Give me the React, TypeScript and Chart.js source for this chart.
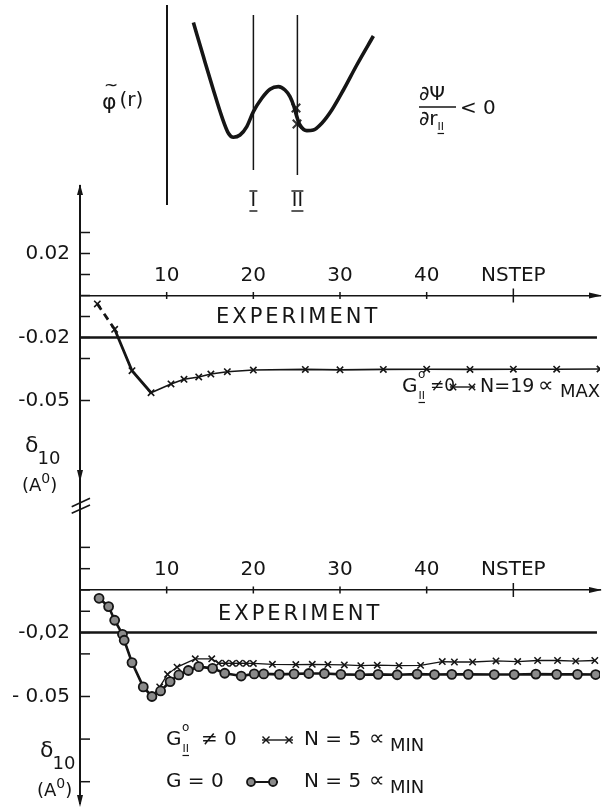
import React, { useEffect, useRef } from 'react';
import { Chart, registerables } from 'chart.js';

Chart.register(...registerables);

const FONT = '"DejaVu Sans", "Liberation Sans", sans-serif';
const INK = '#151515';

// ---------------- potential sketch (r, phi) ----------------
const sketchR = [1.32, 1.82, 2.32, 2.74, 3.07, 3.32, 3.65, 3.99, 4.32, 4.74, 5.15, 5.57, 5.9, 6.15, 6.35, 6.49, 6.65, 6.99, 7.32, 7.74, 8.24, 8.82, 9.49, 10.32];
const sketchPhi = [8.87, 7.17, 5.5, 4.17, 3.34, 3.14, 3.25, 3.67, 4.42, 5.09, 5.54, 5.67, 5.5, 5.17, 4.67, 4.17, 3.75, 3.47, 3.5, 3.84, 4.5, 5.5, 6.75, 8.2];
const sketchMarkR = [6.45, 6.5];
const sketchMarkPhi = [4.6, 3.8];
const phiAxisR = [0, 0];
const phiAxisPhi = [9.75, -0.25];
const shellIR = [4.32, 4.32];
const shellIPhi = [9.25, 1.5];
const shellIIR = [6.52, 6.52];
const shellIIPhi = [9.25, 1.25];

// ---------------- NSTEP axis ----------------
const nstepTicks = [10, 20, 30, 40, 50];
const nstepLabels = ['10', '20', '30', '40', 'NSTEP'];
const experimentNstep = [0, 59.65];
const experimentDelta = [-0.02, -0.02];

// ---------------- upper panel: N=19, alpha MAX ----------------
const upperYTicks = [0.03, 0.02, 0.01, 0, -0.01, -0.02, -0.03, -0.05];
const upperYLabels = ['', '0.02', '', '', '', '-0.02', '', '-0.05'];
const upperNstep = [2, 4, 6, 8.2, 10.5, 12, 13.7, 15.1, 17, 20, 26, 30, 35, 40, 45, 50, 55, 60];
const upperDelta = [-0.004, -0.0161, -0.0358, -0.0463, -0.0421, -0.0399, -0.0388, -0.0374, -0.0363, -0.0355, -0.0352, -0.0354, -0.0352, -0.0351, -0.0352, -0.0351, -0.0351, -0.035];

// ---------------- lower panel: N=5, alpha MIN ----------------
const lowerYTicks = [0.02, 0.01, 0, -0.01, -0.02, -0.03, -0.05, -0.07, -0.09];
const lowerYLabels = ['', '', '', '', '-0,02', '', '- 0.05', '', ''];
const lowerCircleNstep = [2.2, 3.3, 4.0, 4.9, 5.1, 6.0, 7.3, 8.3, 9.3, 10.4, 11.4, 12.5, 13.7, 15.3, 16.7, 18.6, 20.1, 21.2, 23, 24.7, 26.4, 28.2, 30.1, 32.3, 34.4, 36.6, 38.9, 40.9, 42.9, 44.8, 47.8, 50.1, 52.6, 55, 57.4, 59.5];
const lowerCircleDelta = [-0.0039, -0.0078, -0.0142, -0.0208, -0.0236, -0.0341, -0.0455, -0.05, -0.0474, -0.043, -0.0399, -0.0378, -0.036, -0.0368, -0.0391, -0.0404, -0.0394, -0.0394, -0.0396, -0.0394, -0.0392, -0.0392, -0.0396, -0.0398, -0.0396, -0.0398, -0.0395, -0.0397, -0.0396, -0.0396, -0.0397, -0.0397, -0.0395, -0.0396, -0.0396, -0.0397];
const lowerCrossNstep = [2.2, 3.3, 4.0, 4.9, 6.0, 7.3, 8.3, 9.2, 10.1, 11.2, 13.3, 15.2, 16.0, 16.8, 17.6, 18.4, 19.2, 20.0, 22.2, 24.9, 26.8, 28.6, 30.5, 32.4, 34.3, 36.8, 39.3, 41.8, 43.2, 45.3, 48.0, 50.5, 52.8, 55.1, 57.2, 59.4];
const lowerCrossDelta = [-0.0039, -0.0078, -0.0142, -0.0208, -0.0341, -0.0455, -0.05, -0.0455, -0.0396, -0.0362, -0.0323, -0.0323, -0.0344, -0.0344, -0.0345, -0.0344, -0.0345, -0.0345, -0.0349, -0.035, -0.0349, -0.035, -0.0352, -0.0355, -0.0353, -0.0355, -0.0354, -0.0336, -0.0338, -0.0338, -0.0333, -0.0336, -0.0331, -0.0331, -0.0334, -0.0331];

type Pt = { x: number; y: number };
const zip = (xs: number[], ys: number[]): Pt[] => xs.map((x, i) => ({ x, y: ys[i] }));

// ---------------- drawing helpers ----------------
function txt(ctx: CanvasRenderingContext2D, s: string, x: number, y: number, size: number, o: { align?: CanvasTextAlign; ls?: number } = {}) {
  ctx.save();
  ctx.font = `${size}px ${FONT}`;
  ctx.fillStyle = INK;
  ctx.textAlign = o.align || 'left';
  ctx.textBaseline = 'middle';
  (ctx as any).letterSpacing = `${o.ls || 0}px`;
  ctx.fillText(s, x, y);
  const w = ctx.measureText(s).width;
  ctx.restore();
  return x + w;
}
function seg(ctx: CanvasRenderingContext2D, x1: number, y1: number, x2: number, y2: number, w: number) {
  ctx.save();
  ctx.strokeStyle = INK;
  ctx.lineWidth = w;
  ctx.beginPath();
  ctx.moveTo(x1, y1);
  ctx.lineTo(x2, y2);
  ctx.stroke();
  ctx.restore();
}
function tri(ctx: CanvasRenderingContext2D, p: number[]) {
  ctx.save();
  ctx.fillStyle = INK;
  ctx.beginPath();
  ctx.moveTo(p[0], p[1]);
  ctx.lineTo(p[2], p[3]);
  ctx.lineTo(p[4], p[5]);
  ctx.closePath();
  ctx.fill();
  ctx.restore();
}
function crossMark(ctx: CanvasRenderingContext2D, x: number, y: number, r: number) {
  seg(ctx, x - r, y - r, x + r, y + r, 1.4);
  seg(ctx, x - r, y + r, x + r, y - r, 1.4);
}
function circleMark(ctx: CanvasRenderingContext2D, x: number, y: number, r: number) {
  ctx.save();
  ctx.fillStyle = '#8a8a8a';
  ctx.strokeStyle = INK;
  ctx.lineWidth = 1.8;
  ctx.beginPath();
  ctx.arc(x, y, r, 0, Math.PI * 2);
  ctx.fill();
  ctx.stroke();
  ctx.restore();
}
// G with superscript o and underlined subscript II
function gSym(ctx: CanvasRenderingContext2D, x: number, y: number) {
  const e = txt(ctx, 'G', x, y, 20);
  txt(ctx, 'o', e + 0.5, y - 12, 12);
  const e2 = txt(ctx, 'II', e + 1, y + 9, 11);
  seg(ctx, e + 1, y + 15.5, e2, y + 15.5, 1.2);
  return e2 + 3;
}
function deltaLabel(ctx: CanvasRenderingContext2D, x: number, y: number) {
  const e = txt(ctx, 'δ', x, y, 22);
  txt(ctx, '10', e - 1, y + 13, 18);
  const a = txt(ctx, '(A', x - 3, y + 40, 18);
  const b = txt(ctx, '0', a, y + 33, 14);
  txt(ctx, ')', b, y + 40, 18);
}

// ---------------- configs ----------------
function sketchConfig(): any {
  const line = (xs: number[], ys: number[], w: number) => ({
    data: zip(xs, ys), borderColor: INK, borderWidth: w, pointRadius: 0, showLine: true, fill: false,
  });
  return {
    type: 'scatter',
    data: {
      datasets: [
        { ...line(sketchR, sketchPhi, 3.6), tension: 0.35, cubicInterpolationMode: 'monotone' },
        line(phiAxisR, phiAxisPhi, 2),
        line(shellIR, shellIPhi, 1.5),
        line(shellIIR, shellIIPhi, 1.5),
        { data: zip(sketchMarkR, sketchMarkPhi), pointStyle: 'crossRot', pointRadius: 6, pointBorderWidth: 2, pointBorderColor: '#333', showLine: false },
      ],
    },
    options: {
      animation: false, responsive: false, devicePixelRatio: 1,
      layout: { padding: 0, autoPadding: false },
      plugins: { legend: { display: false }, tooltip: { enabled: false } },
      scales: {
        x: { type: 'linear', min: -8.35, max: 21.9, display: false },
        y: { type: 'linear', min: -2, max: 10, display: false },
      },
    },
    plugins: [{
      id: 'sketchText',
      afterDraw(chart: any) {
        const ctx = chart.ctx as CanvasRenderingContext2D;
        const xs = chart.scales.x;
        // phi(r)
        const pe = txt(ctx, 'φ', 102, 103, 22);
        txt(ctx, '~', 104, 87, 17);
        txt(ctx, '(r)', pe + 3, 101, 20);
        // dPsi / dr_II < 0
        txt(ctx, '∂Ψ', 419, 95, 20);
        seg(ctx, 419, 107, 456, 107, 1.5);
        const re = txt(ctx, '∂r', 419, 120, 20);
        const ie = txt(ctx, 'II', re, 127, 11);
        seg(ctx, re, 133.5, ie, 133.5, 1.2);
        txt(ctx, '< 0', 460, 109, 20);
        // shell labels I, II
        const p1 = xs.getPixelForValue(shellIR[0]);
        const p2 = xs.getPixelForValue(shellIIR[0]);
        txt(ctx, 'I', p1, 201, 19, { align: 'center' });
        seg(ctx, p1 - 4, 191, p1 + 4, 191, 1.4);
        seg(ctx, p1 - 4, 211, p1 + 4, 211, 1.4);
        txt(ctx, 'II', p2, 201, 19, { align: 'center' });
        seg(ctx, p2 - 6, 191, p2 + 6, 191, 1.4);
        seg(ctx, p2 - 6, 211, p2 + 6, 211, 1.4);
      },
    }],
  };
}

type PanelSpec = {
  top: number; height: number; padTop: number; padBottom: number;
  yMin: number; yMax: number; yTicks: number[]; yLabels: string[];
  datasets: any[];
  decorate: (ctx: CanvasRenderingContext2D, chart: any, off: number) => void;
};

function panelConfig(p: PanelSpec): any {
  return {
    type: 'line',
    data: { datasets: p.datasets },
    options: {
      animation: false, responsive: false, devicePixelRatio: 1,
      layout: { padding: { top: p.padTop, bottom: p.padBottom, left: 0, right: 5 }, autoPadding: false },
      plugins: { legend: { display: false }, tooltip: { enabled: false } },
      elements: { line: { tension: 0 } },
      scales: {
        x: {
          type: 'linear', min: 0, max: 60,
          position: { y: 0 },
          afterFit: (s: any) => { s.height = 0; s.paddingLeft = 0; s.paddingRight = 0; },
          afterBuildTicks: (s: any) => { s.ticks = nstepTicks.map((v) => ({ value: v })); },
          ticks: {
            callback: (_v: any, i: number) => nstepLabels[i],
            color: INK, font: { family: FONT, size: 20 }, padding: -32,
            maxRotation: 0, minRotation: 0, autoSkip: false,
          },
          grid: { display: false, drawTicks: false },
          border: { display: true, color: INK, width: 1.5 },
        },
        y: {
          type: 'linear', min: p.yMin, max: p.yMax, position: 'left',
          afterFit: (s: any) => { s.width = 80; s.paddingTop = 0; s.paddingBottom = 0; },
          afterBuildTicks: (s: any) => { s.ticks = p.yTicks.map((v) => ({ value: v })); },
          ticks: {
            callback: (_v: any, i: number) => p.yLabels[i],
            color: INK, font: { family: FONT, size: 20 }, padding: 10, autoSkip: false,
          },
          grid: { display: false, drawTicks: false },
          border: { display: true, color: INK, width: 2 },
        },
      },
    },
    plugins: [{
      id: 'panelDecor',
      afterDraw(chart: any) {
        const ctx = chart.ctx as CanvasRenderingContext2D;
        const { x, y } = chart.scales;
        const area = chart.chartArea;
        const y0 = y.getPixelForValue(0);
        p.yTicks.forEach((v) => {
          const py = y.getPixelForValue(v);
          seg(ctx, area.left, py, area.left + 10, py, 1.5);
        });
        nstepTicks.forEach((v) => {
          const px = x.getPixelForValue(v);
          const h = v === 50 ? 7 : 3.5;
          seg(ctx, px, y0 - h, px, y0 + h, 1.5);
        });
        tri(ctx, [area.right + 2, y0, area.right - 11, y0 - 3, area.right - 11, y0 + 3]);
        p.decorate(ctx, chart, p.top);
      },
    }],
  };
}

const upperSpec: PanelSpec = {
  top: 180, height: 340, padTop: 6.3, padBottom: 14.5,
  yMin: -0.1, yMax: 0.052, yTicks: upperYTicks, yLabels: upperYLabels,
  datasets: [
    {
      data: zip(upperNstep, upperDelta), borderColor: INK, borderWidth: 1.6,
      pointStyle: 'crossRot', pointRadius: 4.5, pointBorderWidth: 1.6, pointBorderColor: INK, pointBackgroundColor: INK,
      segment: {
        borderDash: (c: any) => (c.p0DataIndex === 0 ? [7, 5] : undefined),
        borderWidth: (c: any) => (c.p0DataIndex < 3 ? 2.8 : 1.6),
      },
    },
    { data: zip(experimentNstep, experimentDelta), borderColor: INK, borderWidth: 2.5, pointRadius: 0 },
  ],
  decorate(ctx, chart, off) {
    const ax = chart.chartArea.left;
    const Y = (v: number) => v - off;
    // y axis arrows
    tri(ctx, [ax, Y(184), ax - 3, Y(195), ax + 3, Y(195)]);
    tri(ctx, [ax, Y(482), ax - 3, Y(470), ax + 3, Y(470)]);
    // axis break
    seg(ctx, 71.7, Y(506.7), 90, Y(498.3), 1.6);
    seg(ctx, 71.7, Y(513.3), 90, Y(505), 1.6);
    txt(ctx, 'EXPERIMENT', 216, Y(318), 21, { ls: 3 });
    deltaLabel(ctx, 25, Y(446));
    // legend
    const e = gSym(ctx, 402, Y(387));
    txt(ctx, '≠0', e + 2, Y(387), 17);
    seg(ctx, 450, Y(387), 475, Y(387), 1.4);
    crossMark(ctx, 453, Y(387), 3.2);
    crossMark(ctx, 472, Y(387), 3.2);
    txt(ctx, 'N=19', 480, Y(387), 19);
    txt(ctx, '∝', 538, Y(386), 22);
    txt(ctx, 'MAX', 560, Y(392), 18);
  },
};

const lowerSpec: PanelSpec = {
  top: 505, height: 306, padTop: 1.9, padBottom: 8,
  yMin: -0.1, yMax: 0.039, yTicks: lowerYTicks, yLabels: lowerYLabels,
  datasets: [
    {
      data: zip(lowerCircleNstep, lowerCircleDelta), borderColor: INK, borderWidth: 2.6,
      pointStyle: 'circle', pointRadius: 4.5, pointBorderWidth: 1.8, pointBorderColor: INK, pointBackgroundColor: '#8a8a8a',
    },
    {
      data: zip(lowerCrossNstep, lowerCrossDelta), borderColor: INK, borderWidth: 1.3,
      pointStyle: 'crossRot', pointRadius: 4.5, pointBorderWidth: 1.5, pointBorderColor: INK, pointBackgroundColor: INK,
    },
    { data: zip(experimentNstep, experimentDelta), borderColor: INK, borderWidth: 2.5, pointRadius: 0 },
  ],
  decorate(ctx, chart, off) {
    const ax = chart.chartArea.left;
    const Y = (v: number) => v - off;
    tri(ctx, [ax, Y(807), ax - 3, Y(795), ax + 3, Y(795)]);
    txt(ctx, 'EXPERIMENT', 218, Y(615), 21, { ls: 3 });
    deltaLabel(ctx, 40, Y(751));
    // legend line 1
    const e = gSym(ctx, 166, Y(740));
    txt(ctx, '≠ 0', e + 9, Y(740), 20);
    seg(ctx, 262, Y(740), 293, Y(740), 1.4);
    crossMark(ctx, 266, Y(740), 3.5);
    crossMark(ctx, 289, Y(740), 3.5);
    txt(ctx, 'N = 5', 304, Y(740), 20);
    txt(ctx, '∝', 369, Y(739), 22);
    txt(ctx, 'MIN', 390, Y(746), 18);
    // legend line 2
    txt(ctx, 'G = 0', 166, Y(782), 20);
    seg(ctx, 247, Y(782), 278, Y(782), 2);
    circleMark(ctx, 251, Y(782), 4);
    circleMark(ctx, 273, Y(782), 4);
    txt(ctx, 'N = 5', 304, Y(782), 20);
    txt(ctx, '∝', 369, Y(781), 22);
    txt(ctx, 'MIN', 390, Y(788), 18);
  },
};

export default function App() {
  const sRef = useRef<HTMLCanvasElement>(null);
  const uRef = useRef<HTMLCanvasElement>(null);
  const lRef = useRef<HTMLCanvasElement>(null);
  useEffect(() => {
    const charts = [
      new Chart(sRef.current!, sketchConfig()),
      new Chart(uRef.current!, panelConfig(upperSpec)),
      new Chart(lRef.current!, panelConfig(lowerSpec)),
    ];
    return () => charts.forEach((c) => c.destroy());
  }, []);
  const abs = (top: number): React.CSSProperties => ({ position: 'absolute', left: 0, top });
  return (
    <div style={{ position: 'absolute', left: 0, top: 0, width: 605, height: 811, background: '#fff', overflow: 'hidden' }}>
      <canvas ref={sRef} width={605} height={240} style={abs(0)} />
      <canvas ref={uRef} width={605} height={upperSpec.height} style={abs(upperSpec.top)} />
      <canvas ref={lRef} width={605} height={lowerSpec.height} style={abs(lowerSpec.top)} />
    </div>
  );
}
